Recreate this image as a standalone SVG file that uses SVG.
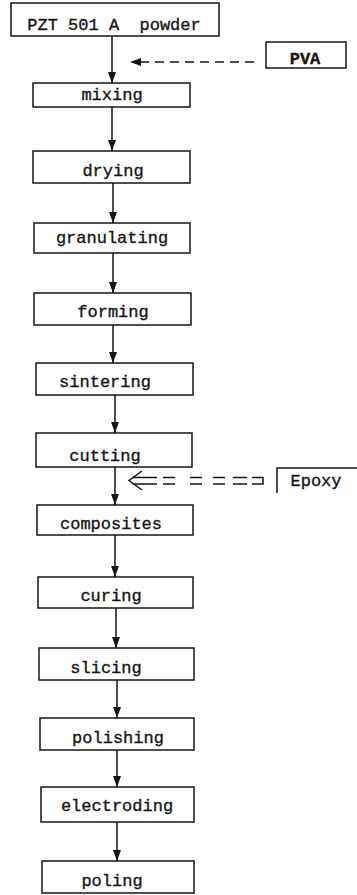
<svg xmlns="http://www.w3.org/2000/svg" width="357" height="895" viewBox="0 0 357 895">
<style>
.box{fill:none;stroke:#151515;stroke-width:1.5}
.t{font-family:"Liberation Mono","DejaVu Sans Mono",monospace;font-size:17px;fill:#151515;stroke:#151515;stroke-width:0.35;text-anchor:middle;white-space:pre}
.ln{stroke:#151515;stroke-width:1.5;fill:none}
.dash{stroke:#151515;stroke-width:1.5;fill:none;stroke-dasharray:9 6}
.ah{fill:#151515}
</style>
<rect width="357" height="895" fill="#fff"/>
<g id="connectors">
<line class="ln" x1="112" y1="36" x2="112" y2="83"/>
<path class="ah" d="M108,72 L116,72 L112,83 Z"/>
<line class="ln" x1="112" y1="107" x2="112" y2="151"/>
<path class="ah" d="M108,140 L116,140 L112,151 Z"/>
<line class="ln" x1="113" y1="183" x2="113" y2="223"/>
<path class="ah" d="M109,212 L117,212 L113,223 Z"/>
<line class="ln" x1="113" y1="253" x2="113" y2="293"/>
<path class="ah" d="M109,282 L117,282 L113,293 Z"/>
<line class="ln" x1="113" y1="325" x2="113" y2="363"/>
<path class="ah" d="M109,352 L117,352 L113,363 Z"/>
<line class="ln" x1="115" y1="395" x2="115" y2="433"/>
<path class="ah" d="M111,422 L119,422 L115,433 Z"/>
<line class="ln" x1="115" y1="467" x2="115" y2="505"/>
<path class="ah" d="M111,494 L119,494 L115,505 Z"/>
<line class="ln" x1="115" y1="535" x2="115" y2="577"/>
<path class="ah" d="M111,566 L119,566 L115,577 Z"/>
<line class="ln" x1="116" y1="608" x2="116" y2="648"/>
<path class="ah" d="M112,637 L120,637 L116,648 Z"/>
<line class="ln" x1="117" y1="680" x2="117" y2="718"/>
<path class="ah" d="M113,707 L121,707 L117,718 Z"/>
<line class="ln" x1="117" y1="750" x2="117" y2="787"/>
<path class="ah" d="M113,776 L121,776 L117,787 Z"/>
<line class="ln" x1="117" y1="822" x2="117" y2="861"/>
<path class="ah" d="M113,850 L121,850 L117,861 Z"/>
<line class="dash" x1="254" y1="62" x2="140" y2="62"/>
<path class="ah" d="M130,62 L141,58 L141,66 Z"/>
<path class="ln" d="M142,471 L129,480.5 L142,490"/>
<path class="ln" d="M133,477.5 H157 M163,477.5 H175 M190,477.5 H202 M213,477.5 H225 M233,477.5 H247 M252,477.5 H263 V484 H252 M247,484 H233 M225,484 H213 M202,484 H190 M175,484 H163 M157,484 H133"/>
</g>
<g id="n-pzt"><rect class="box" x="11" y="3" width="208" height="33"/><text class="t" x="114" y="30">PZT 501 A  powder</text></g>
<g id="n-pva"><rect class="box" x="266" y="42" width="80" height="26"/><text class="t" x="305" y="64" style="font-weight:bold">PVA</text></g>
<g id="n-mixing"><rect class="box" x="33" y="83" width="157" height="24"/><text class="t" x="112" y="100">mixing</text></g>
<g id="n-drying"><rect class="box" x="33" y="151" width="157" height="32"/><text class="t" x="113" y="176">drying</text></g>
<g id="n-granulating"><rect class="box" x="34" y="223" width="156" height="30"/><text class="t" x="112" y="243">granulating</text></g>
<g id="n-forming"><rect class="box" x="34" y="293" width="157" height="32"/><text class="t" x="113" y="317">forming</text></g>
<g id="n-sintering"><rect class="box" x="36" y="363" width="157" height="32"/><text class="t" x="105" y="387">sintering</text></g>
<g id="n-cutting"><rect class="box" x="36" y="433" width="156" height="34"/><text class="t" x="105" y="461">cutting</text></g>
<g id="n-epoxy"><path class="box" d="M357,468 H277 V493"/><text class="t" x="316" y="486">Epoxy</text></g>
<g id="n-composites"><rect class="box" x="37" y="505" width="156" height="30"/><text class="t" x="111" y="529">composites</text></g>
<g id="n-curing"><rect class="box" x="38" y="577" width="155" height="31"/><text class="t" x="111" y="601">curing</text></g>
<g id="n-slicing"><rect class="box" x="39" y="648" width="155" height="32"/><text class="t" x="106" y="673">slicing</text></g>
<g id="n-polishing"><rect class="box" x="40" y="718" width="154" height="32"/><text class="t" x="118" y="743">polishing</text></g>
<g id="n-electroding"><rect class="box" x="41" y="787" width="153" height="35"/><text class="t" x="117" y="811">electroding</text></g>
<g id="n-poling"><rect class="box" x="42" y="861" width="152" height="32"/><text class="t" x="112" y="886">poling</text></g>
</svg>
